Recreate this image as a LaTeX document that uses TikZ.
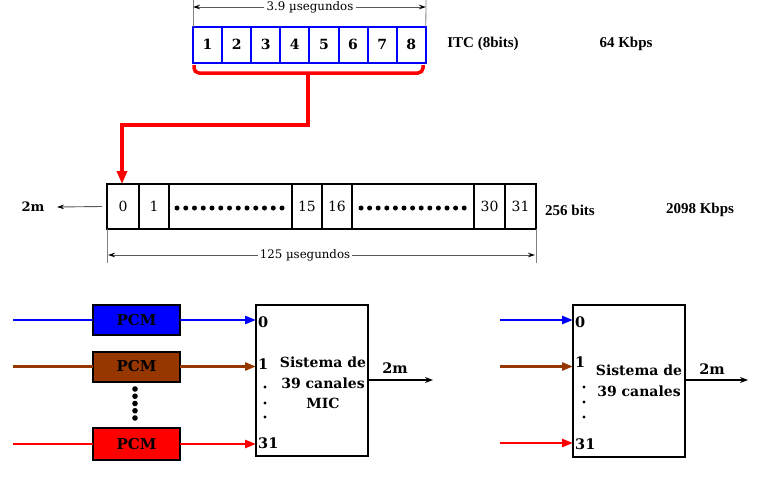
\documentclass[tikz,border=0pt]{standalone}
\usepackage{fontspec}
\setmainfont{Liberation Serif}
\newfontfamily\cent{DejaVu Serif}
\usetikzlibrary{arrows.meta}
\definecolor{pcmbrown}{RGB}{150,55,0}
\definecolor{dimgray}{RGB}{90,90,90}
\tikzset{
  topcell/.style={draw=blue, line width=2pt, inner sep=0pt, outer sep=0pt,
    minimum width=29.1pt, minimum height=36pt, font=\cent\bfseries\fontsize{14}{16}\selectfont},
  framecell/.style={draw=black, line width=1.8pt, inner sep=0pt, outer sep=0pt,
    minimum height=45pt, font=\cent\fontsize{14}{16}\selectfont},
  dimtext/.style={inner sep=2pt, font=\cent\fontsize{11.8}{13}\selectfont},
  dimline/.style={draw=dimgray, line width=0.8pt, -{Stealth[length=7pt,width=4.5pt,black]}},
  extline/.style={draw=gray, line width=0.8pt},
  lbl/.style={inner sep=0pt, font=\bfseries\fontsize{15}{17}\selectfont},
  pcmbox/.style={draw=black, line width=2pt, inner sep=0pt, outer sep=0pt,
    minimum width=87pt, minimum height=30pt, font=\cent\bfseries\fontsize{15}{17}\selectfont},
  micbox/.style={draw=black, line width=2pt, inner sep=0pt, outer sep=0pt,
    minimum width=112pt, minimum height=151pt},
  inlbl/.style={inner sep=0pt, anchor=west, font=\cent\bfseries\fontsize{14.5}{16}\selectfont},
  systxt/.style={inner sep=0pt, align=center, font=\cent\bfseries\fontsize{14}{20.5}\selectfont},
  inarrow/.style={line width=2.6pt, -{Triangle[length=11pt,width=8pt]}},
  inline/.style={line width=2.6pt},
  outarrow/.style={line width=1.8pt, -{Stealth[length=8pt,width=6pt]}},
}
\begin{document}
\begin{tikzpicture}[x=1pt,y=-1pt]
\useasboundingbox (0,0) rectangle (761,479);

% ---------- top 8-bit frame ----------
\foreach \i in {1,...,8}{
  \node[topcell] (t\i) at ({193+29.1*(\i-0.5)},44.5) {\i};
}
\coordinate (tl) at (193,7);
\coordinate (tr) at (426,7);
\draw[extline] (t1.north west) -- (193,0);
\draw[extline] (t8.north east) -- (426,0);
\node[dimtext] (tdim) at (310,7) {3.9 µsegundos};
\draw[dimline] (tdim.west) -- (tl);
\draw[dimline] (tdim.east) -- (tr);

\node[lbl] (itc) at (483,44) {ITC (8bits)};
\node[lbl] (k64) at (626,44) {64 Kbps};

% red brace and arrow
\coordinate (bl) at (194,65);
\coordinate (br) at (423,65);
\coordinate (bm) at (308,73);
\coordinate (bend) at (308,125);
\draw[red, line width=3.5pt, rounded corners=5pt] (bl) -- (194,73) -- (423,73) -- (br);

% ---------- 32-slot frame ----------
\node[framecell, minimum width=32pt] (f0) at (123,206.5) {0};
\node[framecell, minimum width=30pt] (f1) at (154,206.5) {1};
\node[framecell, minimum width=123pt] (fd1) at (230.5,206.5) {};
\node[framecell, minimum width=30pt] (f15) at (307,206.5) {15};
\node[framecell, minimum width=30pt] (f16) at (337,206.5) {16};
\node[framecell, minimum width=122pt] (fd2) at (413,206.5) {};
\node[framecell, minimum width=31pt] (f30) at (489.5,206.5) {30};
\node[framecell, minimum width=31pt] (f31) at (520.5,206.5) {31};
\foreach \k in {0,...,12}{
  \fill ({177+8.75*\k},208) circle (2.5pt);
  \fill ({361+8.6*\k},208) circle (2.5pt);
}

\draw[red, line width=3.5pt, -{Triangle[length=13pt,width=10pt]}] (bm) -- (bend) -- (122,125) -- (f0.north -| 122,0);

% bottom dimension
\coordinate (bdl) at (108,255);
\coordinate (bdr) at (535,255);
\draw[extline] (f0.south west) -- (107,263);
\draw[extline] (f31.south east) -- (536,263);
\node[dimtext] (bdim) at (305,255) {125 µsegundos};
\draw[dimline] (bdim.west) -- (bdl);
\draw[dimline] (bdim.east) -- (bdr);

% left 2m
\node[inner sep=0pt, font=\cent\bfseries\fontsize{13}{15}\selectfont] (lm) at (33,207) {2m};
\coordinate (lmtip) at (57,207);
\draw[draw=dimgray, line width=0.9pt, -{Stealth[length=7pt,width=4.5pt,black]}] ([xshift=-5pt]f0.west) -- (lmtip);

\node[lbl] (b256) at (570,210) {256 bits};
\node[lbl] (k2098) at (700,210) {2098 Kbps};

% ---------- bottom left system ----------
\node[pcmbox, fill=blue] (p1) at (136.5,320) {PCM};
\node[pcmbox, fill=pcmbrown] (p2) at (136.5,366.5) {PCM};
\node[pcmbox, fill=red, minimum height=32pt] (p3) at (136.5,444) {PCM};
\foreach \k in {0,...,4}{
  \fill (135,{389+7.25*\k}) circle (2.8pt);
}
\node[micbox] (mic) at (312,380.5) {};
\coordinate (s1) at (13,320);
\coordinate (s2) at (13,366.5);
\coordinate (s3) at (13,444);
\draw[inline, blue] (s1) -- (p1.west);
\draw[inline, pcmbrown] (s2) -- (p2.west);
\draw[inline, red] (s3) -- (p3.west);
\draw[inarrow, blue] (p1.east) -- (p1.east -| mic.west);
\draw[inarrow, pcmbrown] (p2.east) -- (p2.east -| mic.west);
\draw[inarrow, red] (p3.east) -- (p3.east -| mic.west);
\node[inlbl] (m0) at (258,322) {0};
\node[inlbl] (m1) at (258,364) {1};
\node[inlbl] (m31) at (258,443) {31};
\foreach \yy in {387,403,417}{ \fill (265,\yy) circle (1.6pt); }
\node[systxt] (mtxt) at (323,383) {Sistema de\\39 canales\\MIC};
\coordinate (mout) at (433,380);
\draw[outarrow] (mic.east |- mout) -- (mout);
\node[inner sep=0pt, font=\cent\bfseries\fontsize{14.5}{16}\selectfont] (m2m) at (395,368) {2m};

% ---------- bottom right system ----------
\node[micbox, minimum height=152pt] (mic2) at (629,381) {};
\coordinate (r1) at (500,320);
\coordinate (r2) at (500,366.5);
\coordinate (r3) at (500,443);
\draw[inarrow, blue] (r1) -- (r1 -| mic2.west);
\draw[inarrow, pcmbrown] (r2) -- (r2 -| mic2.west);
\draw[inarrow, red] (r3) -- (r3 -| mic2.west);
\node[inlbl] (n0) at (575,322) {0};
\node[inlbl] (n1) at (575,362) {1};
\node[inlbl] (n31) at (575,444) {31};
\foreach \yy in {387,402,417}{ \fill (584,\yy) circle (1.6pt); }
\node[systxt] (ntxt) at (639,381) {Sistema de\\39 canales};
\coordinate (nout) at (748,380);
\draw[outarrow] (mic2.east |- nout) -- (nout);
\node[inner sep=0pt, font=\cent\bfseries\fontsize{14.5}{16}\selectfont] (n2m) at (712,369) {2m};
\end{tikzpicture}
\end{document}
